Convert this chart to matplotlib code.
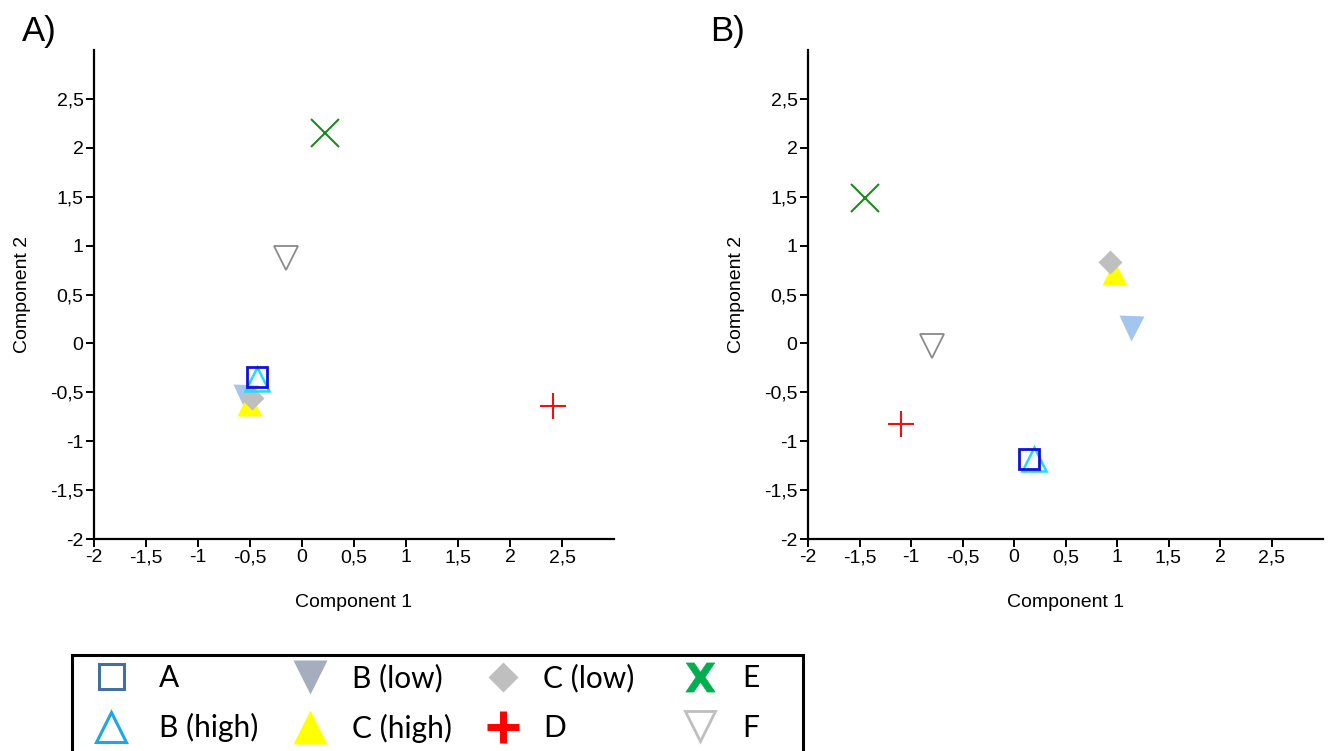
import matplotlib
matplotlib.use("Agg")
import matplotlib.pyplot as plt
from matplotlib.lines import Line2D
from matplotlib.patches import Rectangle

plt.rcParams['font.family'] = ['Liberation Sans', 'DejaVu Sans']

groups = ["A", "B (high)", "B (low)", "C (high)", "C (low)", "D", "E", "F"]

# Panel A coordinates
a_x = [-0.43, -0.43, -0.55, -0.51, -0.48, 2.41, 0.22, -0.15]
a_y = [-0.34, -0.36, -0.55, -0.61, -0.56, -0.64, 2.15, 0.87]
# Panel B coordinates
b_x = [0.15, 0.19, 1.14, 0.97, 0.93, -1.10, -1.45, -0.80]
b_y = [-1.18, -1.18, 0.16, 0.73, 0.83, -0.82, 1.49, -0.03]

xticks = [-2, -1.5, -1, -0.5, 0, 0.5, 1, 1.5, 2, 2.5]
yticks = [-2, -1.5, -1, -0.5, 0, 0.5, 1, 1.5, 2, 2.5]

def fmt(v):
    return ('%g' % v).replace('.', ',')

# plot styles
styles = {
    "A":        dict(marker='s', ms=15, mfc='none', mec='#1010e0', mew=2.0, ls='none', zorder=6),
    "B (high)": dict(marker='^', ms=17, mfc='none', mec='#22ddf5', mew=1.8, ls='none', zorder=5),
    "B (low)":  dict(marker='v', ms=18, mfc='#a4c6ee', mec='none', ls='none', zorder=2),
    "C (high)": dict(marker='^', ms=18, mfc='#ffff00', mec='none', ls='none', zorder=3),
    "C (low)":  dict(marker='D', ms=12.5, mfc='#bfbfbf', mec='none', ls='none', zorder=4),
    "D":        dict(marker='+', ms=19, mec='#ee1111', mew=1.5, ls='none', zorder=5),
    "E":        dict(marker='x', ms=20, mec='#1e8a1e', mew=1.5, ls='none', zorder=5),
    "F":        dict(marker='v', ms=17, mfc='none', mec='#8a8a8a', mew=1.3, ls='none', zorder=5),
}

# legend styles
leg_styles = {
    "A":        dict(marker='s', ms=18, mfc='none', mec='#41719c', mew=2.2),
    "B (high)": dict(marker='^', ms=21, mfc='none', mec='#1ea7e0', mew=2.2),
    "B (low)":  dict(marker='v', ms=24, mfc='#a5adbf', mec='none'),
    "C (high)": dict(marker='^', ms=24, mfc='#ffff00', mec='none'),
    "C (low)":  dict(marker='D', ms=15, mfc='#bfbfbf', mec='none'),
    "D":        dict(marker='+', ms=23, mec='#ff0000', mew=5),
    "E":        dict(marker='$\\mathbf{X}$', ms=21, mec='#00b050', mfc='#00b050', mew=0.5),
    "F":        dict(marker='v', ms=21, mfc='none', mec='#bfbfbf', mew=2.0),
}

W, H = 1334, 751
fig = plt.figure(figsize=(W / 100, H / 100), dpi=100)

def make_ax(rect, xs, ys):
    ax = fig.add_axes(rect)
    for g, x, y in zip(groups, xs, ys):
        ax.plot([x], [y], **styles[g])
    ax.set_xlim(-2, 3)
    ax.set_ylim(-2, 3)
    ax.set_xticks(xticks)
    ax.set_yticks(yticks)
    ax.set_xticklabels([fmt(t) for t in xticks], fontsize=14)
    ax.set_yticklabels([fmt(t) for t in yticks], fontsize=14)
    ax.spines['top'].set_visible(False)
    ax.spines['right'].set_visible(False)
    ax.spines['left'].set_linewidth(1.6)
    ax.spines['bottom'].set_linewidth(1.6)
    ax.tick_params(direction='out', length=5.5, width=1.4, pad=2)
    ax.set_xlabel('Component 1', fontsize=14, labelpad=20)
    ax.set_ylabel('Component 2', fontsize=14, labelpad=14)
    return ax

axA = make_ax([94 / W, 1 - 539 / H, 520 / W, 489 / H], a_x, a_y)
axB = make_ax([808 / W, 1 - 539 / H, 515 / W, 489 / H], b_x, b_y)

fig.text(22 / W, 1 - 32 / H, 'A)', fontsize=25, va='center', ha='left')
fig.text(710 / W, 1 - 32 / H, 'B)', fontsize=25, va='center', ha='left')

# Legend: frame + four two-entry columns
fig.add_artist(Rectangle((72 / W, -0.05), (803 - 72) / W, (1 - 655 / H) + 0.05,
                         transform=fig.transFigure, fill=False,
                         edgecolor='black', linewidth=2.2, zorder=1))

fs = 21.5
fs_px = fs * 100 / 72.0
columns = [(0, 1), (2, 3), (4, 5), (6, 7)]
marker_x = [111, 310, 503, 700]
text_x = [159, 352, 543, 742]
for (i, j), mx, tx in zip(columns, marker_x, text_x):
    hl = 1.0
    pad = (tx - mx - hl * fs_px / 2) / fs_px
    hs = [Line2D([], [], ls='none', **leg_styles[groups[k]]) for k in (i, j)]
    fig.legend(hs, [groups[i], groups[j]], loc='center left',
               bbox_to_anchor=((mx - hl * fs_px / 2) / W, 1 - 703 / H),
               prop={'family': 'Lato', 'size': fs}, frameon=False,
               handlelength=hl, handletextpad=pad, labelspacing=0.72,
               borderpad=0, borderaxespad=0)

fig.savefig('out.png', dpi=100)
